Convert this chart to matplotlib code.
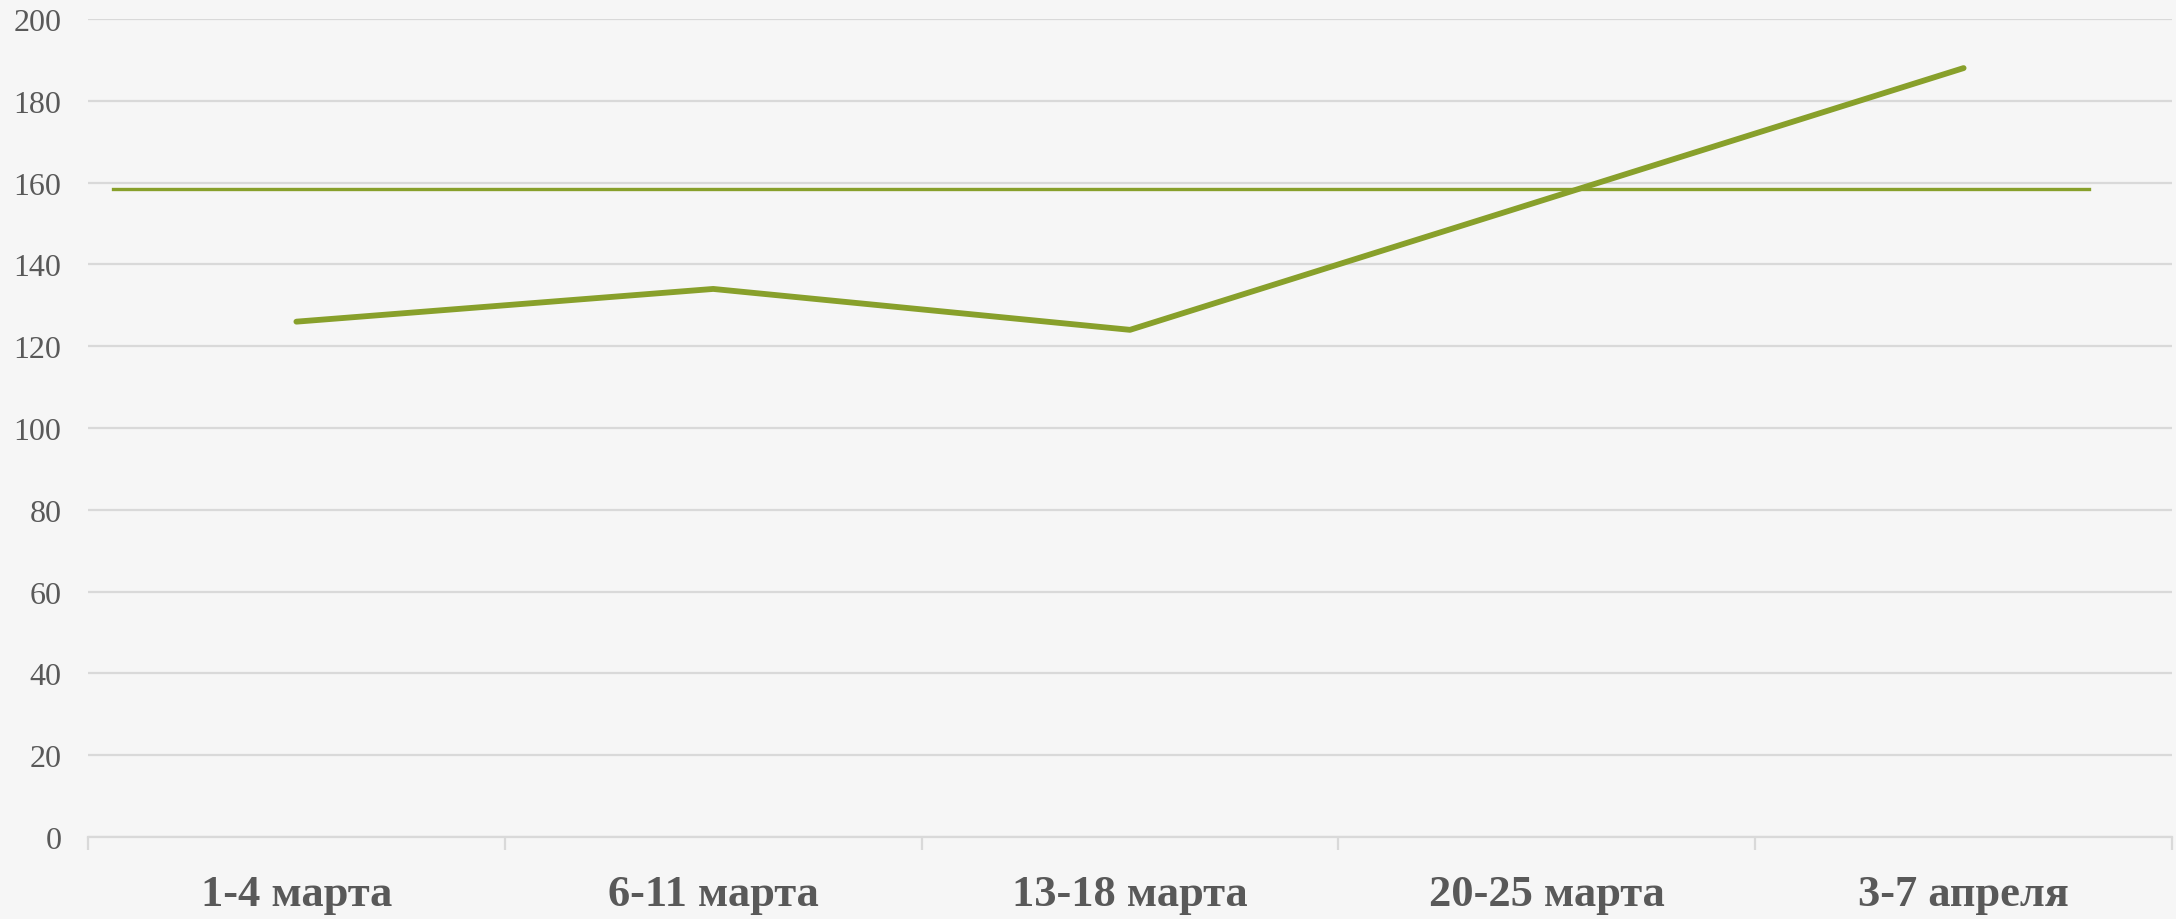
import matplotlib.pyplot as plt
import numpy as np

# данные
periods = ["1-4 марта", "6-11 марта", "13-18 марта", "20-25 марта", "3-7 апреля"]
values = [126, 134, 124, 156, 188]
level = 158.5

green = "#88A02B"
grey_txt = "#595959"
grid_c = "#D9D9D9"
bg = "#F6F6F6"

plt.rcParams['font.family'] = ['Liberation Serif', 'DejaVu Serif']

fig = plt.figure(figsize=(21.76, 9.2), dpi=100, facecolor=bg)
ax = fig.add_axes([88 / 2176, 82 / 920, 2084 / 2176, 818 / 920])
ax.set_facecolor(bg)

x = np.arange(len(periods))
ax.plot(x, values, color=green, lw=4.2, solid_capstyle='round', solid_joinstyle='round', zorder=3)
ax.plot([-0.44, 4.3], [level, level], color=green, lw=2.4, zorder=2)

ax.set_xlim(-0.5, len(periods) - 0.5)
ax.set_ylim(0, 200)
ax.set_yticks(np.arange(0, 201, 20))
ax.grid(axis='y', color=grid_c, lw=1.6, zorder=1)
ax.set_axisbelow(True)

for s in ['top', 'right', 'left']:
    ax.spines[s].set_visible(False)
ax.spines['bottom'].set_color(grid_c)
ax.spines['bottom'].set_linewidth(1.6)

ax.set_xticks(x)
ax.set_xticklabels(periods, fontsize=32, fontweight='bold', color=grey_txt)
ax.set_xticks(np.arange(-0.5, len(periods)), minor=True)
ax.tick_params(axis='x', which='major', length=0, pad=27)
ax.tick_params(axis='x', which='minor', length=9.5, width=1.6, color=grid_c)
ax.tick_params(axis='y', length=0, pad=19, labelsize=23, labelcolor=grey_txt)

plt.savefig("out.png", dpi=100, facecolor=bg)
